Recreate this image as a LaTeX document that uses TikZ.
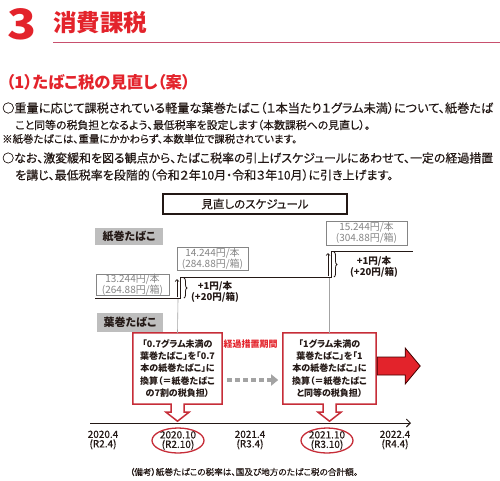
\documentclass[tikz,border=0pt]{standalone}
\usepackage{fontspec}
\usepackage{graphicx}
\setmainfont{Noto Sans CJK JP}
\newfontfamily\jpp{Noto Sans CJK JP}[RawFeature=+palt]
\newfontfamily\jpm{Noto Sans CJK JP}[RawFeature=+palt,FakeBold=0.4]
\usetikzlibrary{arrows.meta,decorations.pathreplacing,calc}
\definecolor{tred}{HTML}{E3232B}
\definecolor{uline}{HTML}{C8506E}
\definecolor{cred}{HTML}{C62D38}
\definecolor{txt}{HTML}{231815}
\definecolor{gfill}{HTML}{BEBEBE}
\definecolor{pgray}{HTML}{858585}
\definecolor{lgray}{HTML}{A3A3A3}
\tikzset{
  body/.style={anchor=west,inner sep=0pt,text=txt},
  gbox/.style={fill=gfill,inner sep=0pt,text=txt,font=\jpp\fontsize{11}{12}\selectfont\bfseries},
  pbox/.style={draw=pgray,line width=1pt,fill=white,text=pgray,align=center,inner sep=0pt,font=\fontsize{10}{9.8}\selectfont},
  incr/.style={align=center,text=txt,inner sep=0pt,font=\fontsize{9.5}{9.5}\selectfont\bfseries},
  ctext/.style={align=center,text=txt,inner sep=0pt,font=\jpp\fontsize{9}{12.2}\selectfont\bfseries},
  tlab/.style={align=center,text=txt,inner sep=0pt,font=\jpm\fontsize{10}{9.5}\selectfont},
  stepl/.style={draw=txt,line width=0.9pt},
  uparr/.style={draw=txt,line width=0.7pt,-{Straight Barb[length=2pt,width=4pt]}},
  vconn/.style={draw=lgray,line width=0.6pt},
  callout/.style={draw=cred,line width=1.5pt,line join=miter},
  ell/.style={draw=cred,line width=1.3pt},
  brc/.style={draw=txt,line width=0.8pt,decorate,decoration={brace,amplitude=3pt}},
}
\begin{document}
\begin{tikzpicture}[x=1pt,y=-1pt]
\useasboundingbox (0,0) rectangle (500,480);
% header
\node[inner sep=0pt,text=tred] (num) at (22,24) {\resizebox{29pt}{31pt}{\bfseries 3}};
\node[inner sep=0pt,text=tred,anchor=west] (ttl) at (53,23) {\resizebox{94pt}{!}{\bfseries 消費課税}};
\coordinate (ul0) at (53,42);
\coordinate (ul1) at (500,42);
\draw[uline,line width=0.8pt] (ul0) -- (ul1);
\node[inner sep=0pt,text=tred,anchor=west] (sub) at (6,82) {\resizebox{184pt}{!}{\jpp\fontsize{15}{16}\selectfont\bfseries （1）たばこ税の見直し（案）}};
% body text
\node[body] (l1) at (2,108) {\resizebox{491pt}{!}{\jpm\fontsize{11.5}{12}\selectfont ○重量に応じて課税されている軽量な葉巻たばこ（１本当たり１グラム未満）について、紙巻たば}};
\node[body] (l2) at (15,125) {\resizebox{355pt}{!}{\jpm\fontsize{11.5}{12}\selectfont こと同等の税負担となるよう、最低税率を設定します（本数課税への見直し）。}};
\node[body] (l3) at (2,139) {\resizebox{295pt}{!}{\jpm\fontsize{8.5}{9}\selectfont ※紙巻たばこは、重量にかかわらず、本数単位で課税されています。}};
\node[body] (l4) at (2,158) {\resizebox{491pt}{!}{\jpm\fontsize{11.5}{12}\selectfont ○なお、激変緩和を図る観点から、たばこ税率の引上げスケジュールにあわせて、一定の経過措置}};
\node[body] (l5) at (15,175) {\resizebox{378pt}{!}{\jpm\fontsize{11.5}{12}\selectfont を講じ、最低税率を段階的（令和２年10月・令和３年10月）に引き上げます。}};
% schedule title
\node[draw=txt,line width=1.3pt,minimum width=184pt,minimum height=20pt,inner sep=0pt,text=txt,font=\jpm\fontsize{11.5}{12}\selectfont] (sch) at (255,204) {見直しのスケジュール};
\node[gbox,minimum width=68pt,minimum height=17pt] (kami) at (129,236.5) {紙巻たばこ};
\node[gbox,minimum width=66pt,minimum height=19pt] (ha) at (130,322.5) {葉巻たばこ};
% price boxes
\node[pbox,minimum width=73pt,minimum height=20pt] (p1) at (132.5,285) {13.244円/本\\(264.88円/箱)};
\node[pbox,minimum width=71pt,minimum height=23pt] (p2) at (212.5,258.5) {14.244円/本\\(284.88円/箱)};
\node[pbox,minimum width=81pt,minimum height=24pt] (p3) at (366.5,233) {15.244円/本\\(304.88円/箱)};
% step line
\coordinate (s0) at (95,298);
\coordinate (s1) at (180,298);
\coordinate (s2) at (180,277);
\coordinate (s3) at (331,277);
\coordinate (s4) at (331,251);
\coordinate (s5) at (413,251);
\draw[stepl] (s0) -- (s1) -- (s2) -- (s3) -- (s4) -- (s5);
\coordinate (a0) at (177,297);
\coordinate (a1) at (177,279);
\coordinate (b0) at (328,276);
\coordinate (b1) at (328,253);
\draw[uparr] (a0) -- (a1);
\draw[uparr] (b0) -- (b1);
\coordinate (br0) at (184,278);
\coordinate (br1) at (184,298);
\coordinate (br2) at (334,252);
\coordinate (br3) at (334,277);
\draw[brc] (br0) -- (br1);
\draw[brc] (br2) -- (br3);
\node[incr] (i1) at (215,292) {+1円/本\\(+20円/箱)};
\node[incr] (i2) at (374,266.5) {+1円/本\\(+20円/箱)};
% callouts
\node[ctext,minimum width=89pt,minimum height=71pt] (c1) at (177.5,368.5) {「0.7グラム未満の\\葉巻たばこ」を「0.7\\本の紙巻たばこ」に\\換算（＝紙巻たばこ\\の7割の税負担）};
\node[ctext,minimum width=93pt,minimum height=71pt] (c2) at (329.5,368.5) {「1グラム未満の\\葉巻たばこ」を「1\\本の紙巻たばこ」に\\換算（＝紙巻たばこ\\と同等の税負担）};
\draw[callout] (c1.north west) -- (c1.north east) -- (c1.south east) -- ($(c1.south)+(6.5,0)$) -- ++(0,8) -- ++(5,0) -- ($(c1.south)+(0,17)$) -- ($(c1.south)+(-11.5,8)$) -- ++(5,0) -- ($(c1.south)+(-6.5,0)$) -- (c1.south west) -- cycle;
\draw[callout] (c2.north west) -- (c2.north east) -- (c2.south east) -- ($(c2.south)+(6.5,0)$) -- ++(0,8) -- ++(5,0) -- ($(c2.south)+(0,17)$) -- ($(c2.south)+(-11.5,8)$) -- ++(5,0) -- ($(c2.south)+(-6.5,0)$) -- (c2.south west) -- cycle;
\coordinate (v1) at (178,299);
\coordinate (v2) at (329.5,278);
\draw[vconn] (v1) -- (c1.north);
\draw[vconn] (v2) -- (c2.north);
\node[inner sep=0pt,text=tred,font=\jpp\fontsize{9}{10}\selectfont\bfseries] (kk) at (250.5,344) {経過措置期間};
\draw[lgray,line width=4pt,dash pattern=on 5pt off 3pt,-{Triangle[length=7pt,width=11pt]}] ($(c1.east)+(5,11.5)$) -- ($(c2.east)+(-98,11.5)$);
% big red arrow
\coordinate (ra) at ($(c2.east)+(1,-2.5)$);
\fill[tred,draw=black!75!red,line width=0.8pt] ($(ra)+(0,-9)$) -- ++(28,0) -- ++(0,-9) -- ($(ra)+(43,0)$) -- ($(ra)+(28,18)$) -- ++(0,-9) -- ($(ra)+(0,9)$) -- cycle;
% timeline
\coordinate (t0) at (90,423);
\coordinate (t1) at (411,423);
\draw[txt,line width=0.9pt,-{Straight Barb[length=4pt,width=8pt]}] (t0) -- (t1);
\node[tlab] (d1) at (103,440) {2020.4\\(R2.4)};
\node[tlab] (d2) at (178,440.5) {2020.10\\(R2.10)};
\node[tlab] (d3) at (250,440) {2021.4\\(R3.4)};
\node[tlab] (d4) at (327,440.5) {2021.10\\(R3.10)};
\node[tlab] (d5) at (395,440) {2022.4\\(R4.4)};
\draw[ell] (d2) ellipse [x radius=26, y radius=12.5];
\draw[ell] (d4) ellipse [x radius=26, y radius=12.5];
\node[inner sep=0pt,text=txt] (note) at (244,472) {\resizebox{228pt}{!}{\jpm\fontsize{8.5}{9}\selectfont （備考）紙巻たばこの税率は、国及び地方のたばこ税の合計額。}};
\end{tikzpicture}
\end{document}
